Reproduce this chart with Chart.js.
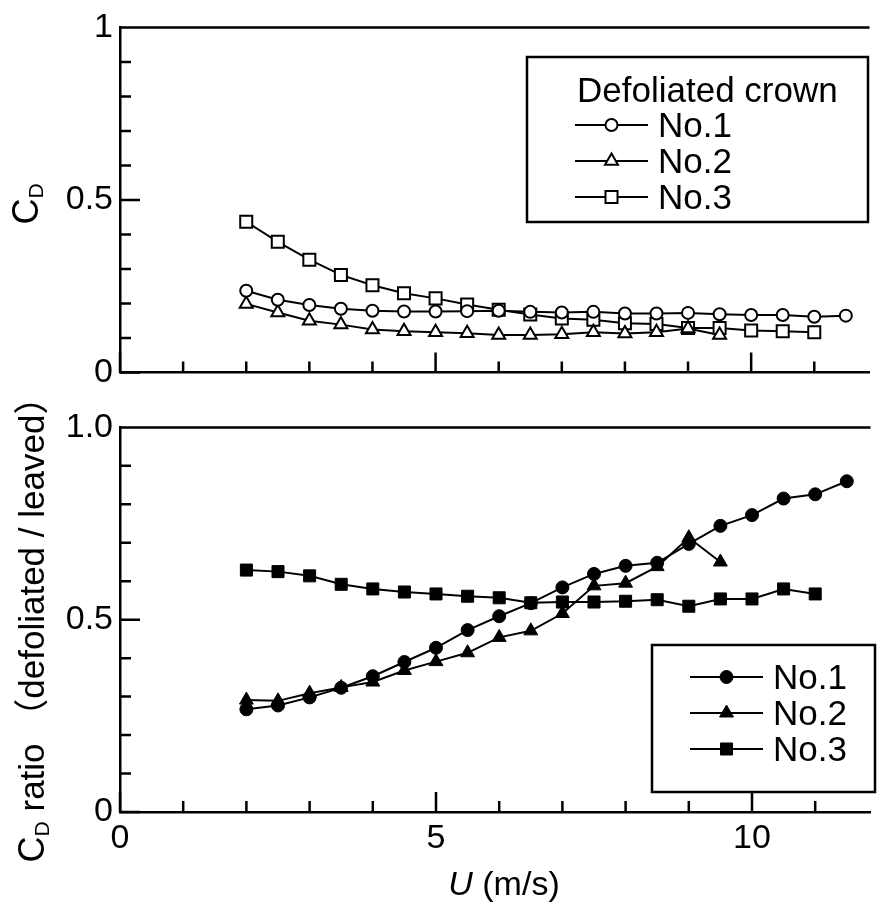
<!DOCTYPE html>
<html>
<head>
<meta charset="utf-8">
<script src="https://cdn.jsdelivr.net/npm/chart.js@4.4.0/dist/chart.umd.min.js"></script>
<style>
  html, body { margin: 0; padding: 0; background: #fff; }
  #wrap { position: relative; width: 880px; height: 909px; }
  canvas { position: absolute; left: 0; }
  #topChart { top: 0; }
  #bottomChart { top: 400px; }
</style>
</head>
<body>
<div id="wrap">
  <canvas id="topChart" width="880" height="400"></canvas>
  <canvas id="bottomChart" width="880" height="509"></canvas>
</div>
<script>
// wind speed U (m/s) of each measurement
const speedNo1 = [2, 2.5, 3, 3.5, 4, 4.5, 5, 5.5, 6, 6.5, 7, 7.5, 8, 8.5, 9, 9.5, 10, 10.5, 11, 11.5];
const speedNo2 = [2, 2.5, 3, 3.5, 4, 4.5, 5, 5.5, 6, 6.5, 7, 7.5, 8, 8.5, 9, 9.5];
const speedNo3 = [2, 2.5, 3, 3.5, 4, 4.5, 5, 5.5, 6, 6.5, 7, 7.5, 8, 8.5, 9, 9.5, 10, 10.5, 11];

// drag coefficient of the defoliated crown
const cdNo1 = [0.237, 0.211, 0.196, 0.185, 0.179, 0.177, 0.177, 0.178, 0.179, 0.176, 0.174, 0.176, 0.171, 0.171, 0.173, 0.169, 0.167, 0.167, 0.162, 0.165];
const cdNo2 = [0.199, 0.174, 0.150, 0.139, 0.125, 0.120, 0.117, 0.114, 0.109, 0.109, 0.111, 0.117, 0.113, 0.117, 0.128, 0.109];
const cdNo3 = [0.437, 0.379, 0.327, 0.283, 0.253, 0.230, 0.215, 0.197, 0.182, 0.168, 0.157, 0.153, 0.143, 0.141, 0.129, 0.129, 0.122, 0.120, 0.117];

// CD ratio defoliated / leaved
const ratioNo1 = [0.267, 0.277, 0.298, 0.323, 0.353, 0.390, 0.427, 0.473, 0.509, 0.543, 0.584, 0.619, 0.640, 0.648, 0.697, 0.744, 0.772, 0.815, 0.826, 0.860];
const ratioNo2 = [0.291, 0.289, 0.309, 0.324, 0.338, 0.368, 0.391, 0.414, 0.454, 0.471, 0.516, 0.588, 0.595, 0.638, 0.713, 0.650];
const ratioNo3 = [0.629, 0.625, 0.614, 0.592, 0.580, 0.572, 0.567, 0.561, 0.557, 0.544, 0.546, 0.546, 0.548, 0.552, 0.535, 0.554, 0.554, 0.580, 0.567];

const treeNames = ['No.1', 'No.2', 'No.3'];
const xTickValues = [0, 5, 10];
const xTickLabels = ['0', '5', '10'];
const yTickValues = [0, 0.5, 1];
const topYTickLabels = ['0', '0.5', '1'];
const bottomYTickLabels = ['0', '0.5', '1.0'];
const xMarkValues = [0, 1, 2, 3, 4, 5, 6, 7, 8, 9, 10, 11];
const yMarkValues = [0, 0.1, 0.2, 0.3, 0.4, 0.5, 0.6, 0.7, 0.8, 0.9, 1];

const FONT = '"Liberation Sans", Arial, "Noto Sans CJK JP", sans-serif';
const pts = (xs, ys) => xs.map((x, i) => ({ x: x, y: ys[i] }));

// inward tick marks + top frame line
const frameTicks = {
  id: 'frameTicks',
  afterDraw(chart) {
    const ctx = chart.ctx;
    const { left, right, top, bottom } = chart.chartArea;
    const xs = chart.scales.x, ys = chart.scales.y;
    ctx.save();
    ctx.strokeStyle = '#000';
    ctx.lineWidth = 2.5;
    ctx.beginPath();
    ctx.moveTo(left - 1, top);
    ctx.lineTo(right, top);
    xMarkValues.forEach(v => {
      const px = xs.getPixelForValue(v);
      const len = v % 5 === 0 ? 20 : 11;
      ctx.moveTo(px, bottom);
      ctx.lineTo(px, bottom - len);
    });
    yMarkValues.forEach((v, i) => {
      const py = ys.getPixelForValue(v);
      const len = i % 5 === 0 ? 20 : 11;
      ctx.moveTo(left, py);
      ctx.lineTo(left + len, py);
    });
    ctx.stroke();
    ctx.restore();
  }
};

// draws a run of text pieces with different fonts (for subscripts / italics)
function drawRich(ctx, parts, cx, baseY) {
  let total = 0;
  parts.forEach(p => { ctx.font = p.font; p.w = ctx.measureText(p.t).width; total += p.w; });
  let x = cx - total / 2;
  ctx.textAlign = 'left';
  ctx.textBaseline = 'alphabetic';
  parts.forEach(p => {
    ctx.font = p.font;
    ctx.fillText(p.t, x, baseY + (p.dy || 0));
    x += p.w;
  });
}

const panelText = {
  id: 'panelText',
  afterDraw(chart, args, opts) {
    const ctx = chart.ctx;
    ctx.save();
    ctx.fillStyle = '#000';
    // y title (rotated)
    ctx.save();
    ctx.translate(opts.yTitleX, opts.yTitleY);
    ctx.rotate(-Math.PI / 2);
    drawRich(ctx, opts.yTitle, 0, 0);
    ctx.restore();
    if (opts.xTitle) drawRich(ctx, opts.xTitle, opts.xTitleX, opts.xTitleY);

    // legend box
    const lg = opts.legend;
    ctx.strokeStyle = '#000';
    ctx.lineWidth = 2.5;
    ctx.strokeRect(lg.box[0], lg.box[1], lg.box[2] - lg.box[0], lg.box[3] - lg.box[1]);
    ctx.textAlign = 'left';
    if (lg.title) {
      ctx.font = '35px ' + FONT;
      ctx.textBaseline = 'alphabetic';
      ctx.fillText(lg.title, lg.titleX, lg.titleY);
    }
    chart.data.datasets.forEach((ds, i) => {
      const y = lg.rows[i];
      ctx.strokeStyle = '#000';
      ctx.lineWidth = 2;
      ctx.beginPath();
      ctx.moveTo(lg.line[0], y);
      ctx.lineTo(lg.line[1], y);
      ctx.stroke();
      ctx.fillStyle = ds.pointBackgroundColor;
      ctx.strokeStyle = '#000';
      ctx.lineWidth = ds.pointBorderWidth;
      Chart.helpers.drawPoint(ctx, {
        pointStyle: ds.pointStyle, radius: ds.pointRadius, rotation: 0, borderWidth: ds.pointBorderWidth
      }, (lg.line[0] + lg.line[1]) / 2, y);
      ctx.fillStyle = '#000';
      ctx.font = '35px ' + FONT;
      ctx.textBaseline = 'middle';
      ctx.fillText(ds.label, lg.textX, y + 2);
    });
    ctx.restore();
  }
};

function series(label, data, style, radius, fill) {
  return {
    label: label,
    data: data,
    borderColor: '#000',
    borderWidth: 2,
    tension: 0,
    pointStyle: style,
    pointRadius: radius,
    pointBorderWidth: fill === '#000' ? 1 : 2,
    pointBorderColor: '#000',
    pointBackgroundColor: fill
  };
}

function scalesFor(yLabels, showX, xHeight) {
  return {
    x: {
      type: 'linear', min: 0, max: 11.875,
      grid: { display: false, drawTicks: false },
      border: { display: true, color: '#000', width: 2.5 },
      ticks: {
        display: showX, stepSize: 5, includeBounds: false, autoSkip: false, maxRotation: 0,
        padding: 6, color: '#000', font: { family: FONT, size: 34 },
        callback: v => xTickLabels[xTickValues.indexOf(v)] ?? ''
      },
      afterFit: s => { s.height = xHeight; }
    },
    y: {
      type: 'linear', min: 0, max: 1,
      grid: { display: false, drawTicks: false },
      border: { display: true, color: '#000', width: 2.5 },
      ticks: {
        stepSize: 0.5, includeBounds: false, padding: 7, color: '#000',
        font: { family: FONT, size: 34 },
        callback: v => yLabels[yTickValues.indexOf(v)] ?? ''
      },
      afterFit: s => { s.width = 120; }
    }
  };
}

new Chart(document.getElementById('topChart'), {
  type: 'line',
  data: {
    datasets: [
      series(treeNames[0], pts(speedNo1, cdNo1), 'circle', 6, '#fff'),
      series(treeNames[1], pts(speedNo2, cdNo2), 'triangle', 7.5, '#fff'),
      series(treeNames[2], pts(speedNo3, cdNo3), 'rect', 8.5, '#fff')
    ]
  },
  options: {
    responsive: false,
    animation: false,
    layout: { padding: { top: 25, left: 0, right: 0, bottom: 0 } },
    scales: scalesFor(topYTickLabels, false, 17),
    plugins: {
      legend: { display: false },
      tooltip: { enabled: false },
      panelText: {
        yTitleX: 38, yTitleY: 204,
        yTitle: [
          { t: 'C', font: '36px ' + FONT },
          { t: 'D', font: '21px ' + FONT, dy: 5 }
        ],
        legend: {
          box: [527, 57, 868, 222],
          title: 'Defoliated crown', titleX: 577, titleY: 102,
          rows: [125, 161, 197],
          line: [575, 648], textX: 658
        }
      }
    }
  },
  plugins: [frameTicks, panelText]
});

new Chart(document.getElementById('bottomChart'), {
  type: 'line',
  data: {
    datasets: [
      series(treeNames[0], pts(speedNo1, ratioNo1), 'circle', 6.5, '#000'),
      series(treeNames[1], pts(speedNo2, ratioNo2), 'triangle', 8, '#000'),
      series(treeNames[2], pts(speedNo3, ratioNo3), 'rect', 8.5, '#000')
    ]
  },
  options: {
    responsive: false,
    animation: false,
    layout: { padding: { top: 22, left: 0, right: 0, bottom: 0 } },
    scales: scalesFor(bottomYTickLabels, true, 97),
    plugins: {
      legend: { display: false },
      tooltip: { enabled: false },
      panelText: {
        yTitleX: 44, yTitleY: 221,
        yTitle: [
          { t: 'C', font: '36px ' + FONT },
          { t: 'D', font: '21px ' + FONT, dy: 5 },
          { t: ' ratio （defoliated / leaved）', font: '35px ' + FONT }
        ],
        xTitleX: 504, xTitleY: 495,
        xTitle: [
          { t: 'U', font: 'italic 34px ' + FONT },
          { t: ' (m/s)', font: '34px ' + FONT }
        ],
        legend: {
          box: [652, 245, 875, 392],
          rows: [277, 313, 349],
          line: [690, 763], textX: 773
        }
      }
    }
  },
  plugins: [frameTicks, panelText]
});
</script>
</body>
</html>
